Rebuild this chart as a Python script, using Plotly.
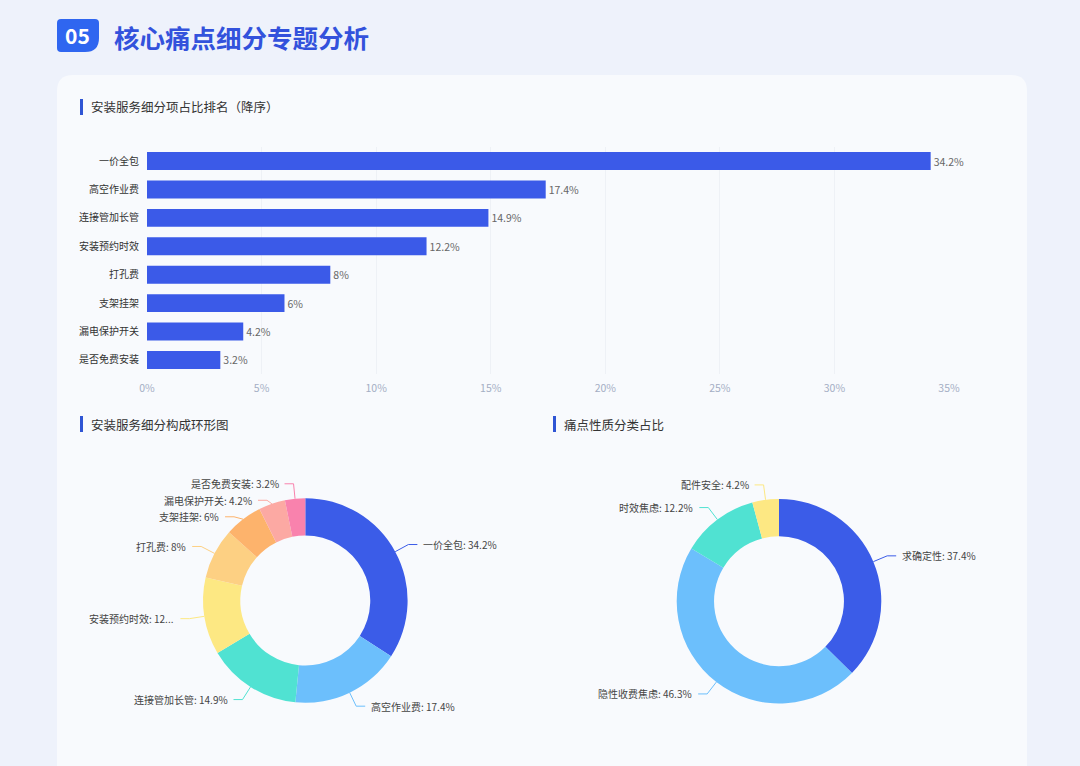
import math
import plotly.graph_objects as go

# ---- data -------------------------------------------------------------------
bar_items = ["一价全包", "高空作业费", "连接管加长管", "安装预约时效",
             "打孔费", "支架挂架", "漏电保护开关", "是否免费安装"]
bar_values = [34.2, 17.4, 14.9, 12.2, 8, 6, 4.2, 3.2]

ring_labels = bar_items
ring_values = bar_values
ring_colors = ["#3b5ce8", "#6cbffc", "#50e2d2", "#fde883", "#fdd083",
               "#fdb36c", "#fca9a3", "#f982ad"]

nature_labels = ["求确定性", "隐性收费焦虑", "时效焦虑", "配件安全"]
nature_values = [37.4, 46.3, 12.2, 4.2]
nature_colors = ["#3b5ce8", "#6cbffc", "#50e2d2", "#fde883"]

W, H = 1080, 766
FONT = "Noto Sans CJK SC"
PAGE_BG = "#eef2fb"
CARD_BG = "#f8fafd"
LABEL_SIZE = 10


def px(x):
    return x / W


def py(y):
    return 1 - y / H


fig = go.Figure()
shapes, annos = [], []


def note(x, y, text, size, color, xanchor="left"):
    annos.append(dict(x=px(x), y=py(y), xref="paper", yref="paper", showarrow=False,
                      xanchor=xanchor, yanchor="middle", text=text,
                      font=dict(size=size, color=color, family=FONT)))


# ---- page furniture ---------------------------------------------------------
# card with rounded top corners
cx0, cx1, cy0, cy1, rr = 57, 1027, 75, 790, 16
shapes.append(dict(
    type="path", xref="paper", yref="paper", layer="below",
    path=(f"M {px(cx0)},{py(cy1)} L {px(cx0)},{py(cy0 + rr)} "
          f"Q {px(cx0)},{py(cy0)} {px(cx0 + rr)},{py(cy0)} "
          f"L {px(cx1 - rr)},{py(cy0)} Q {px(cx1)},{py(cy0)} {px(cx1)},{py(cy0 + rr)} "
          f"L {px(cx1)},{py(cy1)} Z"),
    fillcolor=CARD_BG, line=dict(width=0)))

# "05" badge, bottom-right corner rounded more
bx0, bx1, by0, by1 = 57, 99, 19, 52
shapes.append(dict(
    type="path", xref="paper", yref="paper",
    path=(f"M {px(bx0 + 4)},{py(by0)} L {px(bx1 - 4)},{py(by0)} "
          f"Q {px(bx1)},{py(by0)} {px(bx1)},{py(by0 + 4)} "
          f"L {px(bx1)},{py(by1 - 14)} Q {px(bx1)},{py(by1)} {px(bx1 - 14)},{py(by1)} "
          f"L {px(bx0 + 4)},{py(by1)} Q {px(bx0)},{py(by1)} {px(bx0)},{py(by1 - 4)} "
          f"L {px(bx0)},{py(by0 + 4)} Q {px(bx0)},{py(by0)} {px(bx0 + 4)},{py(by0)} Z"),
    fillcolor="#2f66f0", line=dict(width=0)))
note(78, 35.5, "<b>05</b>", 21, "white", "center")
note(112, 36, "<b>核心痛点细分专题分析</b>", 25.5, "#3352dc")


def section(x, y, text):
    shapes.append(dict(type="rect", xref="paper", yref="paper",
                       x0=px(x), x1=px(x + 3), y0=py(y - 8), y1=py(y + 8),
                       fillcolor="#2f55d4", line=dict(width=0)))
    note(x + 9, y, text, 12.5, "#333333")


section(80, 107, "安装服务细分项占比排名（降序）")
section(80, 424, "安装服务细分构成环形图")
section(553, 424, "痛点性质分类占比")

# ---- bar ranking ------------------------------------------------------------
fig.add_bar(
    x=bar_values, y=bar_items, orientation="h",
    marker=dict(color="#3b5ae8", line=dict(width=0)),
    text=[f"{v:g}%" for v in bar_values], textposition="outside",
    constraintext="none", cliponaxis=False,
    textfont=dict(size=10.5, color="#666666", family=FONT),
    hoverinfo="skip", xaxis="x", yaxis="y")

# ---- donuts -------------------------------------------------------------------
def char_w(ch):
    k = LABEL_SIZE / 10
    if ord(ch) > 0x2e80:
        return 10 * k
    if ch in ":. ":
        return 2.8 * k
    return 5.6 * k


def text_w(s):
    return sum(char_w(c) for c in s)


def donut(labels, values, colors, cx, cy, r, left_bound):
    fig.add_pie(
        labels=labels, values=values, hole=0.635, sort=False,
        direction="clockwise", rotation=0, textinfo="none",
        marker=dict(colors=colors, line=dict(width=0)),
        domain=dict(x=[px(cx - r), px(cx + r)], y=[py(cy + r), py(cy - r)]),
        showlegend=False, hoverinfo="label+percent")
    total = sum(values)
    acc, items = 0, []
    for lab, val, col in zip(labels, values, colors):
        mid = (acc + val / 2) / total * 2 * math.pi
        acc += val
        s, c = math.sin(mid), math.cos(mid)
        ex, ey = cx + r * s, cy - r * c
        kx, ky = cx + (r + 15) * s, cy - (r + 15) * c
        items.append(dict(lab=lab, val=val, col=col, ex=ex, ey=ey, kx=kx, ky=ky,
                          right=s >= 0))
    # push overlapping labels apart (top to bottom) on each side
    for side in (True, False):
        grp = sorted([it for it in items if it["right"] == side], key=lambda d: d["ky"])
        for i in range(1, len(grp)):
            grp[i]["ky"] = max(grp[i]["ky"], grp[i - 1]["ky"] + 16.5)
    for it in items:
        sign = 1 if it["right"] else -1
        lx = it["kx"] + sign * 9
        shapes.append(dict(
            type="path", xref="paper", yref="paper",
            path=(f"M {px(it['ex'])},{py(it['ey'])} L {px(it['kx'])},{py(it['ky'])} "
                  f"L {px(lx)},{py(it['ky'])}"),
            line=dict(color=it["col"], width=1)))
        txt = f"{it['lab']}: {it['val']:g}%"
        if not it["right"]:
            room = lx - 4 - left_bound
            if text_w(txt) > room:
                while txt and text_w(txt) + 8.4 > room:
                    txt = txt[:-1]
                txt = txt.rstrip(".") + "..."
        note(lx + sign * 4, it["ky"], txt, LABEL_SIZE, "#444444",
             "left" if it["right"] else "right")


donut(ring_labels, ring_values, ring_colors, 305.3, 600.5, 102.3, 88)
donut(nature_labels, nature_values, nature_colors, 779, 601.2, 102.3, 553)

# ---- layout -------------------------------------------------------------------
fig.update_layout(
    width=W, height=H, margin=dict(l=0, r=0, t=0, b=0, pad=0, autoexpand=False),
    paper_bgcolor=PAGE_BG, plot_bgcolor="rgba(0,0,0,0)",
    font=dict(family=FONT, size=11, color="#333333"),
    showlegend=False, bargap=0.37,
    xaxis=dict(domain=[px(147), px(949)], range=[0, 35], dtick=5, automargin=False,
               ticksuffix="%", showgrid=True, gridcolor="#eef1f6", zeroline=False,
               showline=False, ticks="", ticklabelstandoff=6,
               tickfont=dict(size=10.5, color="#a4aec4"), fixedrange=True),
    yaxis=dict(domain=[py(374.2), py(146.8)], autorange="reversed", automargin=False,
               showgrid=False, zeroline=False, showline=False, ticks="",
               ticklabelstandoff=7, tickfont=dict(size=10, color="#333333"),
               fixedrange=True),
    shapes=shapes, annotations=annos)

fig.write_html("out.html", config={"displayModeBar": False},
               post_script="document.body.style.margin='0';"
                           "document.body.style.background='" + PAGE_BG + "';")
